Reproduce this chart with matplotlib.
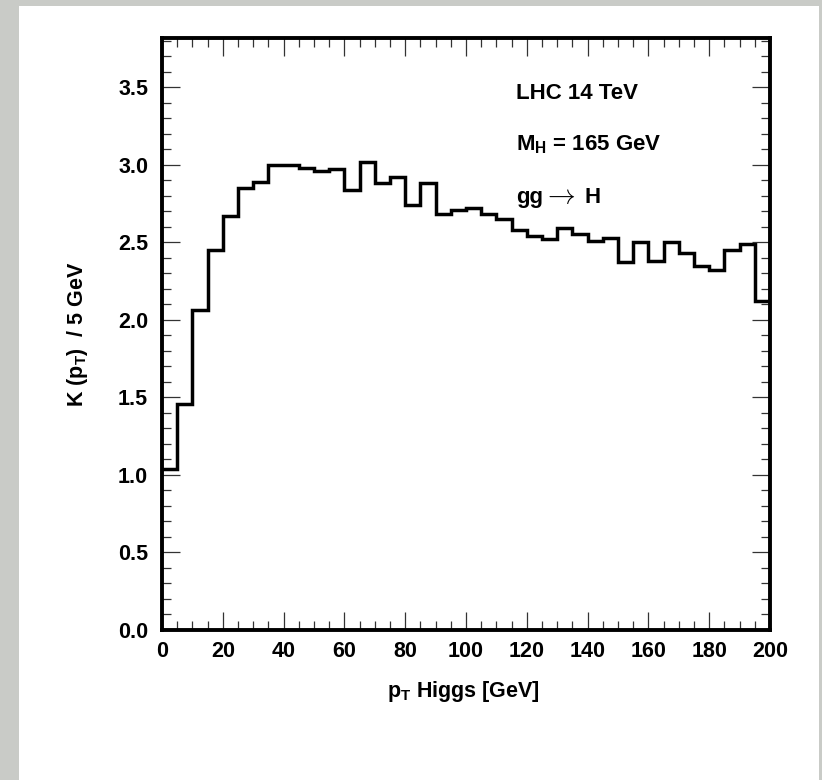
import numpy as np
import matplotlib
matplotlib.use('Agg')
import matplotlib.pyplot as plt
from matplotlib.patches import Rectangle
from matplotlib.ticker import MultipleLocator

plt.rcParams['font.family'] = ['Liberation Sans', 'DejaVu Sans']
plt.rcParams['font.weight'] = 'bold'
plt.rcParams['mathtext.fontset'] = 'custom'
plt.rcParams['mathtext.rm'] = 'Liberation Sans'
plt.rcParams['mathtext.bf'] = 'Liberation Sans:bold'
plt.rcParams['mathtext.it'] = 'Liberation Sans:bold'

# K-factor per 5 GeV bin of Higgs pT, 0-200 GeV
bin_edges = np.arange(0, 205, 5)
k_factor = [1.04, 1.46, 2.06, 2.45, 2.67, 2.85, 2.89, 3.00, 3.00, 2.98,
            2.96, 2.97, 2.84, 3.02, 2.88, 2.92, 2.74, 2.88, 2.68, 2.71,
            2.72, 2.68, 2.65, 2.58, 2.54, 2.52, 2.59, 2.55, 2.51, 2.53,
            2.37, 2.50, 2.38, 2.50, 2.43, 2.35, 2.32, 2.45, 2.49, 2.12]

x_ticks = np.arange(0, 201, 20)
y_ticks = np.arange(0, 3.6, 0.5)

W, H = 822, 780
fig = plt.figure(figsize=(W / 100, H / 100), dpi=100, facecolor='#c9cbc7')

# white pad over the grey canvas
fig.patches.append(Rectangle((19 / W, 0), (819 - 19) / W, (H - 6) / H,
                             transform=fig.transFigure, facecolor='white',
                             edgecolor='none', zorder=-5))

ax = fig.add_axes([162 / W, 1 - 630 / H, (770 - 162) / W, (630 - 37.5) / H])
ax.set_facecolor('white')

ax.stairs(k_factor, bin_edges, baseline=None, color='black', linewidth=2.5)

ax.set_xlim(0, 200)
ax.set_ylim(0, 3.82)
ax.set_xticks(x_ticks)
ax.set_yticks(y_ticks)
ax.set_yticklabels([f'{v:.1f}' for v in y_ticks])
ax.xaxis.set_minor_locator(MultipleLocator(5))
ax.yaxis.set_minor_locator(MultipleLocator(0.1))

for s in ax.spines.values():
    s.set_linewidth(2.8)

ax.tick_params(which='both', direction='in', top=True, right=True,
               color='#333333', width=0.9)
ax.tick_params(which='major', length=13)
ax.tick_params(which='minor', length=6.5)
ax.tick_params(axis='x', which='major', labelsize=15.5, pad=8)
ax.tick_params(axis='y', which='major', labelsize=15.5, pad=10)
for lab in ax.get_xticklabels() + ax.get_yticklabels():
    lab.set_fontweight('bold')

fig.text(463 / W, 1 - 697 / H, r'p$_\mathbf{T}$ Higgs [GeV]', ha='center',
         va='baseline', fontsize=15.5, fontweight='bold')
fig.text(78 / W, 1 - 334 / H, r'K (p$_\mathbf{T}$)  / 5 GeV', ha='center',
         va='center', rotation=90, fontsize=15.5, fontweight='bold')

ax.text(0.582, 0.897, 'LHC 14 TeV', transform=ax.transAxes, va='baseline',
        fontsize=16, fontweight='bold')
ax.text(0.582, 0.809, r'M$_\mathbf{H}$ = 165 GeV', transform=ax.transAxes,
        va='baseline', fontsize=16, fontweight='bold')
ax.text(0.582, 0.721, 'gg', transform=ax.transAxes, va='baseline',
        fontsize=16, fontweight='bold')
ax.text(0.627, 0.721, r'$\rightarrow$', transform=ax.transAxes,
        va='baseline', fontsize=20, math_fontfamily='cm')
ax.text(0.6945, 0.721, 'H', transform=ax.transAxes, va='baseline',
        fontsize=16, fontweight='bold')

fig.savefig('out.png', dpi=100, facecolor=fig.get_facecolor())
